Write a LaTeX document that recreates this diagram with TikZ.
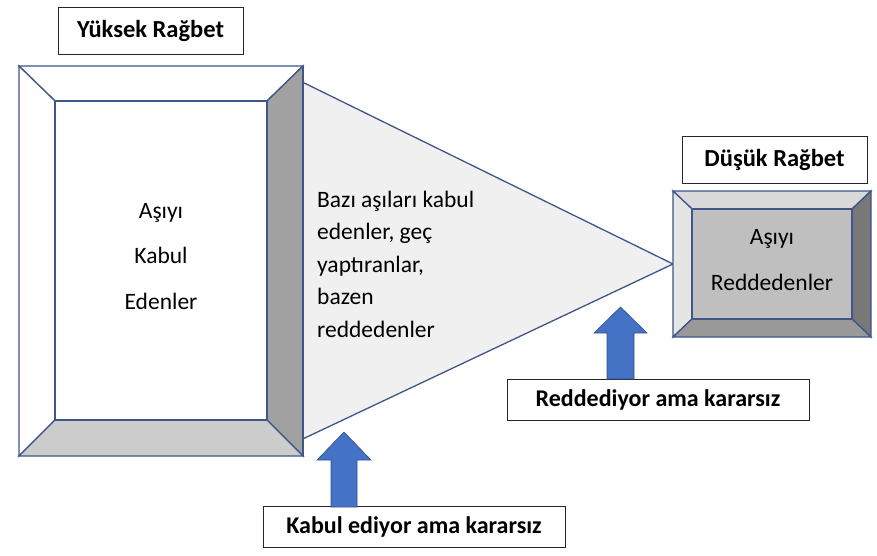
\documentclass[tikz,border=0pt]{standalone}
\usepackage{fontspec}
\setmainfont{Carlito}
\usepackage{tikz}
\usetikzlibrary{positioning}
\definecolor{edgeblue}{RGB}{62,86,136}
\definecolor{arrowblue}{RGB}{68,114,196}
\definecolor{arrowedge}{RGB}{47,82,143}
\definecolor{funnelgray}{RGB}{240,240,240}
\tikzset{
  faceline/.style={draw=edgeblue, line width=1.3pt, line join=miter},
  titlebox/.style={draw=black!85, fill=white, line width=0.9pt, minimum width=185pt, minimum height=47pt, font=\fontsize{24.5}{28}\selectfont\bfseries},
  notebox/.style={draw=black!85, fill=white, line width=0.9pt, minimum height=41pt, font=\fontsize{24}{28}\selectfont\bfseries},
  facetext/.style={align=center, inner sep=0pt, anchor=base, font=\fontsize{23.5}{45.5}\selectfont},
  midtext/.style={align=left, inner sep=0pt, anchor=base west, font=\fontsize{23.5}{32.5}\selectfont},
  blockarrow/.style={fill=arrowblue, draw=arrowedge, line width=0.6pt}
}

\begin{document}
\begin{tikzpicture}[x=1pt, y=-1pt]
  \useasboundingbox (0,0) rectangle (877,556);
  % funnel between the two boxes
  \filldraw[faceline, fill=funnelgray] (290,76) -- (673,264) -- (290,445) -- cycle;
  % high demand box
  \filldraw[faceline, fill=white] (19,66) -- (303,66) -- (267,101) -- (55,101) -- cycle;
  \filldraw[faceline, fill=white] (19,66) -- (55,101) -- (55,420) -- (19,456) -- cycle;
  \filldraw[faceline, fill=black!37] (303,66) -- (303,456) -- (267,420) -- (267,101) -- cycle;
  \filldraw[faceline, fill=black!20] (19,456) -- (303,456) -- (267,420) -- (55,420) -- cycle;
  \filldraw[faceline, fill=white] (55,101) rectangle (267,420);
  \draw[edgeblue, line width=2.2pt] (303,66) -- (303,456);
  % low demand box
  \filldraw[faceline, fill=black!15] (673,191) -- (871,191) -- (852,209) -- (692,209) -- cycle;
  \filldraw[faceline, fill=black!10] (673,191) -- (692,209) -- (692,319) -- (673,337) -- cycle;
  \filldraw[faceline, fill=black!53] (871,191) -- (871,337) -- (852,319) -- (852,209) -- cycle;
  \filldraw[faceline, fill=black!40] (673,337) -- (871,337) -- (852,319) -- (692,319) -- cycle;
  \filldraw[faceline, fill=black!25] (692,209) rectangle (852,319);

  \node[facetext] (acc) at (161,309) {Aşıyı\\Kabul\\Edenler};
  \node[facetext] (rej) at (772,290) {Aşıyı\\Reddedenler};
  \node[midtext] (mid) at (317,337) {Bazı aşıları kabul\\edenler, geç\\yaptıranlar,\\bazen\\reddedenler};

  \node[titlebox] (high) at (150.5,30.5) {Yüksek Rağbet};
  \node[titlebox] (low) at (774.5,159.5) {Düşük Rağbet};
  \node[notebox, minimum width=302pt] (hes1) at (414,527) {Kabul ediyor ama kararsız};
  \node[notebox, minimum width=302pt] (hes2) at (658,400) {Reddediyor ama kararsız};

  % block arrows up to the funnel
  \coordinate (tip1) at (344,432);
  \coordinate (tip2) at (620.5,307);
  \filldraw[blockarrow] (tip1) -- (371,460) -- (357,460) -- (357,507) -- (331,507) -- (331,460) -- (317,460) -- cycle;
  \filldraw[blockarrow] (tip2) -- (647,333) -- (634,333) -- (634,379) -- (607,379) -- (607,333) -- (594,333) -- cycle;
\end{tikzpicture}
\end{document}
